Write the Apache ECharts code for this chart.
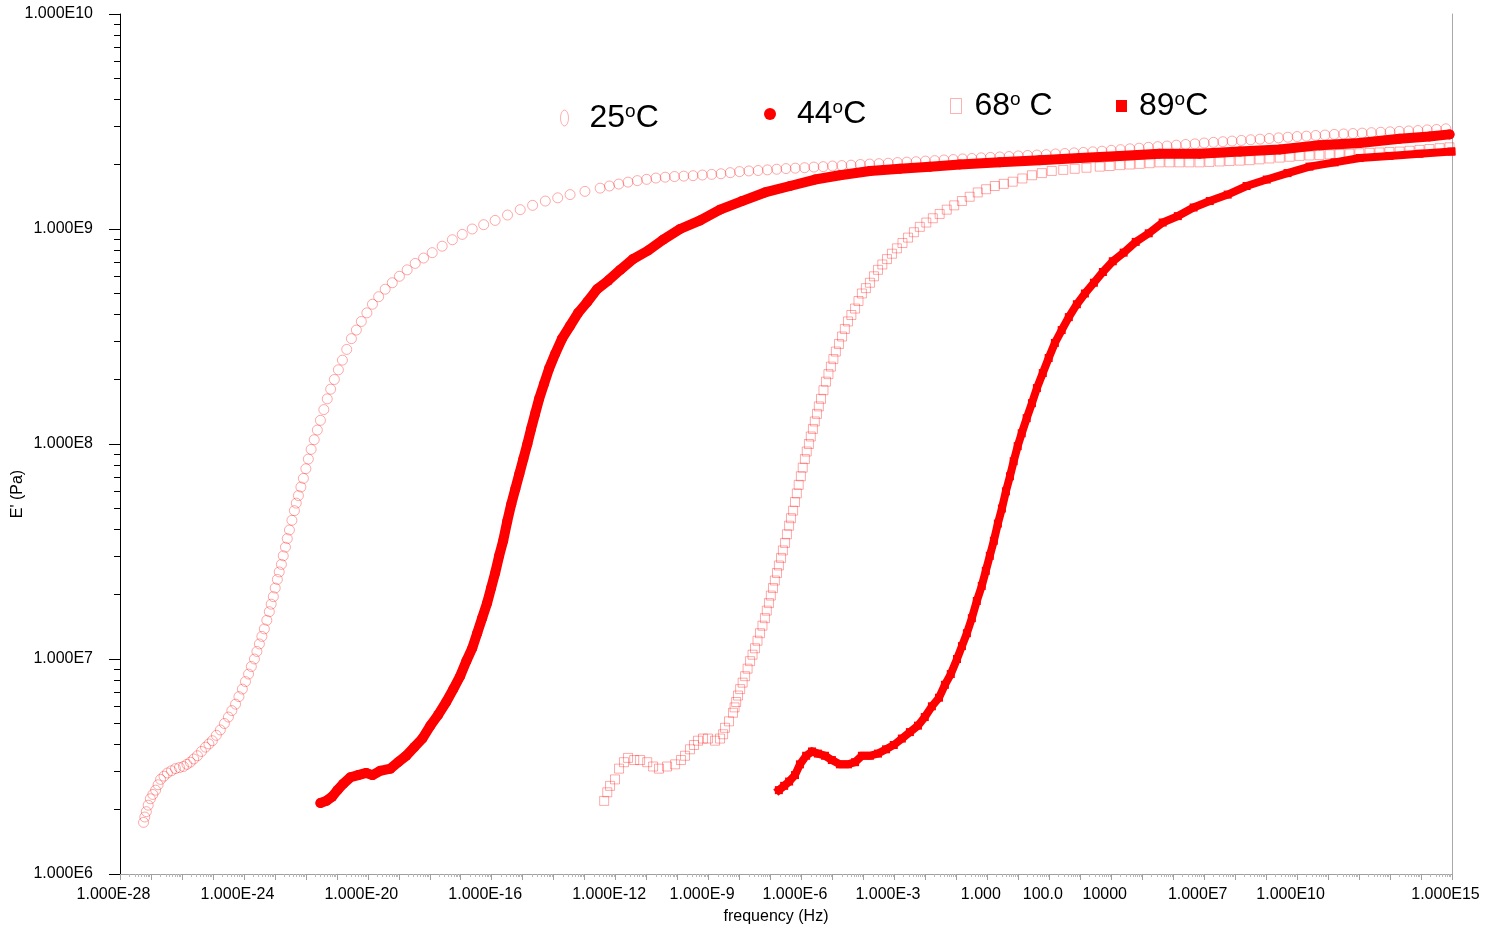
<!DOCTYPE html>
<html>
<head>
<meta charset="utf-8">
<script src="https://cdn.jsdelivr.net/npm/echarts@6/dist/echarts.min.js"></script>
<style>
html,body{margin:0;padding:0;background:#fff;}
#c{width:1491px;height:929px;}
</style>
</head>
<body>
<div id="c"></div>
<script>
// ---- Data: [log10 frequency (Hz), log10 E' (Pa)] ----
const points25 = [
[-27.24,6.24],[-27.20,6.265],[-27.15,6.29],[-27.09,6.32],[-27.02,6.35],[-26.94,6.37],[-26.85,6.39],[-26.77,6.415],[-26.69,6.44],[-26.58,6.455],
[-26.47,6.47],[-26.34,6.48],[-26.21,6.49],[-26.08,6.495],[-25.95,6.50],[-25.84,6.51],[-25.73,6.52],[-25.62,6.535],[-25.50,6.55],[-25.37,6.57],
[-25.24,6.59],[-25.13,6.605],[-25.02,6.62],[-24.89,6.645],[-24.76,6.67],[-24.63,6.70],[-24.50,6.73],[-24.39,6.76],[-24.27,6.79],[-24.16,6.825],
[-24.05,6.86],[-23.95,6.895],[-23.85,6.93],[-23.76,6.965],[-23.66,7.00],[-23.58,7.035],[-23.50,7.07],[-23.42,7.105],[-23.34,7.14],[-23.26,7.18],
[-23.18,7.22],[-23.12,7.255],[-23.05,7.29],[-22.99,7.33],[-22.92,7.37],[-22.86,7.405],[-22.79,7.44],[-22.73,7.48],[-22.66,7.52],[-22.60,7.56],
[-22.53,7.60],[-22.45,7.645],[-22.37,7.69],[-22.31,7.725],[-22.24,7.76],[-22.16,7.80],[-22.08,7.84],[-22.00,7.885],[-21.92,7.93],[-21.83,7.975],
[-21.73,8.02],[-21.63,8.065],[-21.53,8.11],[-21.42,8.16],[-21.31,8.21],[-21.20,8.255],[-21.08,8.30],[-20.95,8.345],[-20.82,8.39],[-20.68,8.44],
[-20.53,8.49],[-20.37,8.53],[-20.21,8.57],[-20.03,8.61],[-19.85,8.65],[-19.65,8.685],[-19.44,8.72],[-19.21,8.75],[-18.98,8.78],[-18.73,8.81],
[-18.47,8.84],[-18.20,8.865],[-17.92,8.89],[-17.60,8.92],[-17.27,8.95],[-16.95,8.975],[-16.63,9.00],[-16.26,9.02],[-15.89,9.04],[-15.49,9.065],
[-15.08,9.09],[-14.68,9.11],[-14.27,9.13],[-13.87,9.145],[-13.47,9.16],[-12.99,9.175],[-12.50,9.19],
[-12.2,9.200],[-11.9,9.209],[-11.6,9.218],[-11.3,9.225],[-11.0,9.231],[-10.7,9.237],[-10.4,9.241],[-10.1,9.244],[-9.8,9.246],[-9.5,9.248],
[-9.2,9.251],[-8.9,9.254],[-8.6,9.257],[-8.3,9.262],[-8.0,9.267],[-7.7,9.270],[-7.4,9.272],[-7.1,9.275],[-6.8,9.278],[-6.5,9.281],
[-6.2,9.283],[-5.9,9.285],[-5.6,9.288],[-5.3,9.290],[-5.0,9.293],[-4.7,9.295],[-4.4,9.297],[-4.1,9.300],[-3.8,9.302],[-3.5,9.304],
[-3.2,9.306],[-2.9,9.309],[-2.6,9.311],[-2.3,9.313],[-2.0,9.316],[-1.7,9.318],[-1.4,9.321],[-1.1,9.323],[-0.8,9.326],[-0.5,9.328],
[-0.2,9.331],[0.1,9.333],[0.4,9.335],[0.7,9.337],[1.0,9.340],[1.3,9.342],[1.6,9.344],[1.9,9.346],[2.2,9.349],[2.5,9.351],
[2.8,9.354],[3.1,9.356],[3.4,9.359],[3.7,9.362],[4.0,9.366],[4.3,9.369],[4.6,9.373],[4.9,9.376],[5.2,9.380],[5.5,9.383],
[5.8,9.386],[6.1,9.390],[6.4,9.393],[6.7,9.396],[7.0,9.400],[7.3,9.403],[7.6,9.406],[7.9,9.409],[8.2,9.412],[8.5,9.415],
[8.8,9.418],[9.1,9.421],[9.4,9.424],[9.7,9.427],[10.0,9.430],[10.3,9.432],[10.6,9.435],[10.9,9.437],[11.2,9.440],[11.5,9.442],
[11.8,9.444],[12.1,9.446],[12.4,9.448],[12.7,9.450],[13.0,9.452],[13.3,9.454],[13.6,9.456],[13.9,9.458],[14.2,9.461],[14.5,9.463],[14.8,9.466]
];

const logFreq44 = [-21.53,-21.34,-21.15,-20.98,-20.79,-20.56,-20.31,-20.05,-19.85,-19.60,-19.27,-19.02,-18.76,-18.50,-18.24,-17.98,-17.73,-17.47,-17.24,-17.02,-16.82,-16.63,-16.47,-16.31,-16.15,-16.02,-15.89,-15.76,-15.63,-15.50,-15.37,-15.24,-15.11,-14.98,-14.85,-14.73,-14.60,-14.47,-14.31,-14.15,-13.95,-13.73,-13.47,-13.21,-12.92,-12.60,-12.24,-11.85,-11.44,-10.95,-10.47,-9.92,-9.27,-8.63,-7.92,-7.18,-6.37,-5.56,-4.76,-3.79,-2.82,-1.85,-0.89,0.40,1.69,2.98,4.27,5.56,6.85,8.15,9.44,10.73,12.02,13.31,14.27,14.92];
const logE44 = [6.33,6.34,6.36,6.39,6.42,6.45,6.46,6.47,6.46,6.48,6.49,6.52,6.55,6.59,6.63,6.69,6.74,6.80,6.86,6.92,6.99,7.05,7.12,7.19,7.26,7.33,7.40,7.48,7.55,7.64,7.72,7.79,7.86,7.93,8.00,8.07,8.14,8.21,8.28,8.35,8.42,8.49,8.55,8.61,8.66,8.72,8.76,8.81,8.86,8.90,8.95,9.00,9.04,9.09,9.13,9.17,9.20,9.23,9.25,9.27,9.28,9.29,9.30,9.31,9.32,9.33,9.34,9.35,9.35,9.36,9.37,9.39,9.40,9.42,9.43,9.44];

const points68 = [
[-12.37,6.34],[-12.27,6.38],[-12.18,6.41],[-12.02,6.44],[-11.89,6.49],[-11.73,6.52],[-11.60,6.54],[-11.40,6.53],[-11.21,6.53],[-10.98,6.52],
[-10.79,6.50],[-10.60,6.49],[-10.34,6.50],[-10.08,6.51],[-9.89,6.53],[-9.76,6.55],[-9.60,6.58],[-9.47,6.60],[-9.34,6.62],[-9.18,6.63],
[-9.02,6.63],[-8.79,6.62],[-8.63,6.63],[-8.53,6.65],[-8.47,6.68],[-8.34,6.71],[-8.21,6.75],[-8.16,6.775],[-8.11,6.80],[-8.05,6.83],
[-7.98,6.86],[-7.90,6.89],[-7.82,6.92],[-7.74,6.955],[-7.66,6.99],[-7.58,7.02],[-7.50,7.05],[-7.42,7.085],[-7.34,7.12],[-7.26,7.155],
[-7.18,7.19],[-7.12,7.225],[-7.05,7.26],[-6.99,7.295],[-6.92,7.33],[-6.86,7.365],[-6.79,7.40],[-6.73,7.435],[-6.66,7.47],[-6.60,7.505],
[-6.53,7.54],[-6.47,7.58],[-6.40,7.62],[-6.34,7.655],[-6.27,7.69],[-6.21,7.73],[-6.15,7.77],[-6.09,7.81],[-6.02,7.85],[-5.96,7.89],
[-5.89,7.93],[-5.83,7.965],[-5.76,8.00],[-5.70,8.035],[-5.63,8.07],[-5.57,8.105],[-5.50,8.14],[-5.44,8.175],[-5.37,8.21],[-5.29,8.25],
[-5.21,8.29],[-5.13,8.325],[-5.05,8.36],[-4.97,8.395],[-4.89,8.43],[-4.79,8.465],[-4.69,8.50],[-4.60,8.535],[-4.50,8.57],[-4.39,8.60],
[-4.27,8.63],[-4.16,8.665],[-4.05,8.70],[-3.92,8.725],[-3.79,8.75],[-3.66,8.78],[-3.53,8.81],[-3.39,8.835],[-3.24,8.86],[-3.08,8.885],
[-2.92,8.91],[-2.74,8.935],[-2.56,8.96],[-2.37,8.985],[-2.18,9.01],[-1.97,9.03],[-1.76,9.05],[-1.54,9.07],[-1.31,9.09],[-1.07,9.11],
[-0.82,9.13],[-0.57,9.15],[-0.31,9.17],[-0.04,9.185],[0.24,9.20],[0.53,9.21],[0.82,9.22],[1.13,9.235],[1.44,9.25],[1.76,9.26],
[2.08,9.27],[2.45,9.275],[2.82,9.28],[3.20,9.285],[3.63,9.29],[3.95,9.293],[4.28,9.297],[4.60,9.30],[4.92,9.303],[5.24,9.306],
[5.56,9.31],[5.88,9.31],[6.20,9.31],[6.52,9.31],[6.85,9.31],[7.17,9.312],[7.50,9.314],[7.82,9.316],[8.15,9.318],[8.47,9.32],
[8.79,9.324],[9.11,9.328],[9.44,9.332],[9.76,9.336],[10.08,9.34],[10.40,9.342],[10.72,9.344],[11.05,9.347],[11.37,9.349],[11.69,9.35],
[12.01,9.352],[12.34,9.354],[12.66,9.356],[12.98,9.358],[13.31,9.36],[13.63,9.364],[13.95,9.368],[14.27,9.372],[14.60,9.376],[14.92,9.38]
];

const logFreq89 = [-6.73,-6.56,-6.40,-6.21,-6.05,-5.85,-5.66,-5.47,-5.24,-5.02,-4.76,-4.50,-4.27,-4.05,-3.79,-3.53,-3.27,-3.02,-2.76,-2.50,-2.24,-2.02,-1.79,-1.56,-1.37,-1.18,-0.98,-0.82,-0.66,-0.50,-0.34,-0.18,-0.05,0.08,0.21,0.34,0.47,0.60,0.73,0.85,0.98,1.11,1.27,1.44,1.60,1.79,1.98,2.18,2.40,2.63,2.89,3.15,3.44,3.73,4.05,4.40,4.79,5.21,5.66,6.15,6.66,7.18,7.76,8.37,9.02,9.69,10.40,11.21,12.02,12.98,13.95,14.98];
const logE89 = [6.39,6.41,6.43,6.46,6.51,6.55,6.57,6.56,6.55,6.53,6.51,6.51,6.52,6.55,6.55,6.56,6.58,6.60,6.63,6.66,6.69,6.73,6.78,6.82,6.88,6.93,7.00,7.06,7.12,7.19,7.27,7.34,7.41,7.48,7.55,7.63,7.70,7.78,7.85,7.92,7.99,8.05,8.12,8.19,8.26,8.33,8.40,8.47,8.53,8.59,8.65,8.70,8.75,8.80,8.85,8.89,8.94,8.98,9.03,9.06,9.10,9.13,9.16,9.20,9.23,9.26,9.29,9.31,9.33,9.34,9.35,9.36];

// ---- Tick labels ----
const xTickExps = [-28,-24,-20,-16,-12,-9,-6,-3,0,2,4,7,10,15];
const xTickLabels = ['1.000E-28','1.000E-24','1.000E-20','1.000E-16','1.000E-12','1.000E-9','1.000E-6','1.000E-3','1.000','100.0','10000','1.000E7','1.000E10','1.000E15'];
const yTickExps = [6,7,8,9,10];
const yTickLabels = ['1.000E6','1.000E7','1.000E8','1.000E9','1.000E10'];

// ---- Series / legend names ----
const seriesNames = ['25oC','44oC','68oC','89oC'];
const legendNums = ['25','44','68','89'];
const legendUnits = ['C','C',' C','C'];

// ---- Build ----
const font = 'Liberation Sans, Arial, Helvetica, sans-serif';
const XMIN = 1e-28, XMAX = 1e15, YMIN = 1e6, YMAX = 1e10;
const toPts = (lf, le) => lf.map((f, i) => [Math.pow(10, f), Math.pow(10, le[i])]);
const fromPairs = arr => arr.map(p => [Math.pow(10, p[0]), Math.pow(10, p[1])]);
const clampTo = (lo, hi) => v => Math.min(Math.max(v, lo * (1 + 1e-9)), hi * (1 - 1e-9));
const clampX = clampTo(XMIN, XMAX), clampY = clampTo(YMIN, YMAX);
const decades = (a, b) => { const r = []; for (let e = a; e <= b; e++) r.push(Math.pow(10, e)); return r; };
const minors = (a, b) => { const r = []; for (let e = a; e < b; e++) for (let k = 2; k <= 9; k++) r.push(k * Math.pow(10, e)); return r; };
const expOf = v => Math.round(Math.log10(v));

const hollowStroke = 'rgba(255,0,0,0.42)';

function legendFor(idx, left, top, icon, w, h, itemStyle, gap) {
  return {
    data: [{ name: seriesNames[idx], icon: icon, itemStyle: itemStyle }],
    left: left, top: top, padding: 0, itemWidth: w, itemHeight: h,
    formatter: () => '{n|' + legendNums[idx] + '}{s|o}{n|' + legendUnits[idx] + '}',
    textStyle: {
      fontFamily: font, fontSize: 32, color: '#000', padding: [0, 0, 0, gap],
      rich: {
        n: { fontFamily: font, fontSize: 32, lineHeight: 32, color: '#000' },
        s: { fontFamily: font, fontSize: 19, lineHeight: 19, color: '#000', verticalAlign: 'top' }
      }
    }
  };
}

const option = {
  animation: false,
  backgroundColor: '#fff',
  grid: { left: 120, right: 39, top: 14, bottom: 55, containLabel: false, outerBoundsMode: 'none' },
  legend: [
    legendFor(0, 560, 102, 'path://M4,0A4,8,0,1,1,4,16A4,8,0,1,1,4,0Z', 8, 16,
      { color: 'rgba(0,0,0,0)', borderColor: 'rgba(255,60,60,0.5)', borderWidth: 1 }, 16),
    legendFor(1, 764, 98, 'circle', 12, 12, { color: '#ff0000', borderWidth: 0 }, 16),
    legendFor(2, 950, 90, 'rect', 11, 15,
      { color: 'rgba(0,0,0,0)', borderColor: 'rgba(255,60,60,0.5)', borderWidth: 1 }, 8),
    legendFor(3, 1116, 90, 'rect', 11, 12, { color: '#ff0000', borderWidth: 0 }, 7)
  ],
  xAxis: [
    {
      type: 'log', logBase: 10, min: XMIN, max: XMAX, position: 'bottom',
      name: 'frequency (Hz)', nameLocation: 'middle', nameGap: 35, nameMoveOverlap: false,
      nameTextStyle: { fontFamily: font, fontSize: 16, color: '#000', padding: [0, 20, 0, 0] },
      axisLine: { show: true, onZero: false, lineStyle: { color: '#a0a0a0', width: 1 } },
      axisTick: { show: true, length: 6, lineStyle: { color: '#a0a0a0' }, customValues: decades(-28, 15).map(clampX) },
      axisLabel: {
        show: true, margin: 13, fontFamily: font, fontSize: 16, color: '#000', padding: [0, 13, 0, 0],
        customValues: xTickExps.map(e => clampX(Math.pow(10, e))),
        formatter: v => { const i = xTickExps.indexOf(expOf(v)); return i < 0 ? '' : xTickLabels[i]; }
      },
      splitLine: { show: false }, minorTick: { show: false }
    },
    {
      type: 'log', logBase: 10, min: XMIN, max: XMAX, position: 'bottom',
      axisLine: { show: false, onZero: false },
      axisTick: { show: true, length: 3, lineStyle: { color: '#b8b8b8' }, customValues: minors(-28, 15).map(clampX) },
      axisLabel: { show: false }, splitLine: { show: false }
    }
  ],
  yAxis: [
    {
      type: 'log', logBase: 10, min: YMIN, max: YMAX, position: 'left',
      name: "E' (Pa)", nameLocation: 'middle', nameGap: 94, nameRotate: 90, nameMoveOverlap: false,
      nameTextStyle: { fontFamily: font, fontSize: 16, color: '#000', padding: [0, 100, 0, 0] },
      axisLine: { show: true, onZero: false, lineStyle: { color: '#000', width: 1 } },
      axisTick: { show: true, length: 11, lineStyle: { color: '#000' }, customValues: decades(6, 10).map(clampY) },
      axisLabel: {
        show: true, margin: 27, fontFamily: font, fontSize: 16, color: '#000',
        customValues: yTickExps.map(e => clampY(Math.pow(10, e))),
        formatter: v => { const i = yTickExps.indexOf(expOf(v)); return i < 0 ? '' : yTickLabels[i]; }
      },
      splitLine: { show: false }
    },
    {
      type: 'log', logBase: 10, min: YMIN, max: YMAX, position: 'left',
      axisLine: { show: false, onZero: false },
      axisTick: { show: true, length: 6, lineStyle: { color: '#000' }, customValues: minors(6, 10).map(clampY) },
      axisLabel: { show: false }, splitLine: { show: false }
    },
    {
      type: 'log', logBase: 10, min: YMIN, max: YMAX, position: 'right',
      axisLine: { show: true, onZero: false, lineStyle: { color: '#a8a8a8' } },
      axisTick: { show: false }, axisLabel: { show: false }, splitLine: { show: false }
    }
  ],
  series: [
    {
      name: seriesNames[0], type: 'scatter', xAxisIndex: 0, yAxisIndex: 0,
      data: fromPairs(points25), symbol: 'circle', symbolSize: 10,
      itemStyle: { color: 'rgba(0,0,0,0)', borderColor: hollowStroke, borderWidth: 1 },
      emphasis: { disabled: true }, z: 2
    },
    {
      name: seriesNames[1], type: 'line', xAxisIndex: 0, yAxisIndex: 0,
      data: toPts(logFreq44, logE44), symbol: 'circle', symbolSize: 10, showAllSymbol: true,
      itemStyle: { color: '#ff0000', borderWidth: 0 },
      lineStyle: { width: 10, color: '#ff0000', cap: 'round', join: 'round' },
      emphasis: { disabled: true }, z: 3
    },
    {
      name: seriesNames[2], type: 'scatter', xAxisIndex: 0, yAxisIndex: 0,
      data: fromPairs(points68), symbol: 'rect', symbolSize: 9,
      itemStyle: { color: 'rgba(0,0,0,0)', borderColor: hollowStroke, borderWidth: 1 },
      emphasis: { disabled: true }, z: 4
    },
    {
      name: seriesNames[3], type: 'line', xAxisIndex: 0, yAxisIndex: 0,
      data: toPts(logFreq89, logE89), symbol: 'rect', symbolSize: 8, showAllSymbol: true,
      itemStyle: { color: '#ff0000', borderWidth: 0 },
      lineStyle: { width: 8, color: '#ff0000', cap: 'square', join: 'miter' },
      emphasis: { disabled: true }, z: 5
    }
  ]
};

const chart = echarts.init(document.getElementById('c'));
chart.setOption(option);
</script>
</body>
</html>
